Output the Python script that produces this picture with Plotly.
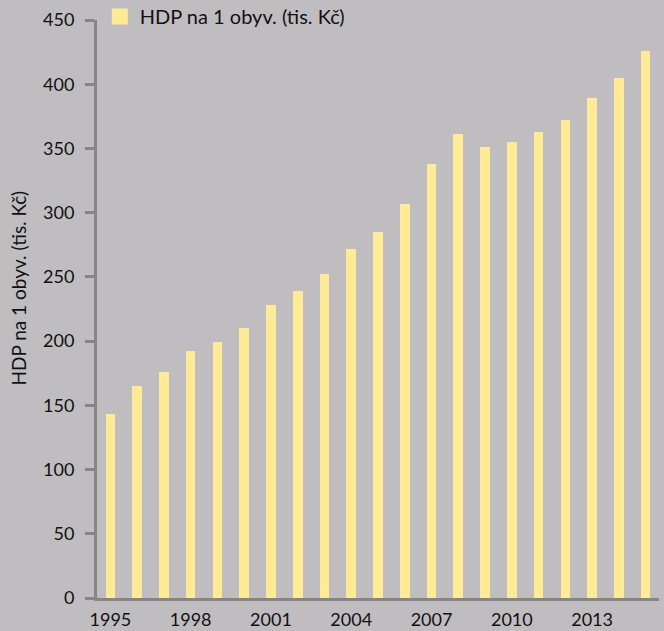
import plotly.graph_objects as go

# HDP na 1 obyvatele (tis. Kč), 1995–2015
years = list(range(1995, 2016))
hdp_per_capita = [143, 165, 176, 192, 199, 210, 228, 239, 252, 272, 285,
                  307, 338, 361, 351, 355, 363, 372, 389, 405, 426]
series_name = "HDP na 1 obyv. (tis. Kč)"
x_tick_years = [1995, 1998, 2001, 2004, 2007, 2010, 2013]
y_ticks = [0, 50, 100, 150, 200, 250, 300, 350, 400, 450]

BG = "#c0bdc0"
BAR = "#ffeb96"
AXIS = "#858585"
FONT = "Lato"

fig = go.Figure()
fig.add_trace(
    go.Bar(
        x=years,
        y=hdp_per_capita,
        name=series_name,
        legendgroup="hdp",
        marker=dict(color=BAR, line=dict(width=0)),
        width=0.36,
        showlegend=False,
    )
)
# legend entry with a larger square swatch for the bar series
fig.add_trace(
    go.Scatter(
        x=[None], y=[None],
        mode="markers",
        name=series_name,
        legendgroup="hdp",
        marker=dict(symbol="square", size=19, color=BAR),
        showlegend=True,
    )
)

fig.update_layout(
    width=664,
    height=631,
    paper_bgcolor=BG,
    plot_bgcolor=BG,
    margin=dict(l=97, r=5, t=20, b=33, autoexpand=False),
    font=dict(family=FONT, size=18, color="#111111"),
    bargap=0,
    legend=dict(
        x=0.005, y=1.04, xanchor="left", yanchor="top",
        bgcolor="rgba(0,0,0,0)", font=dict(size=20),
        itemsizing="trace", itemwidth=30,
    ),
    # y-axis title placed slightly above the plot centre
    annotations=[
        dict(
            text=series_name, textangle=-90,
            xref="paper", yref="paper", x=-0.14, y=0.536,
            xanchor="center", yanchor="middle",
            showarrow=False, font=dict(size=19),
        )
    ],
)

fig.update_xaxes(
    range=[1994.5, 2015.5],
    tickvals=x_tick_years,
    ticktext=[str(y) for y in x_tick_years],
    showgrid=False, zeroline=False,
    showline=True, linecolor=AXIS, linewidth=3,
    ticks="outside", ticklen=3, tickcolor="rgba(0,0,0,0)",
    tickfont=dict(size=18),
    automargin=False,
)

fig.update_yaxes(
    range=[0, 450],
    tickvals=y_ticks,
    showgrid=False, zeroline=False,
    showline=True, linecolor=AXIS, linewidth=3,
    ticks="outside", ticklen=9, tickwidth=3, tickcolor=AXIS,
    ticklabelstandoff=7,
    tickfont=dict(size=18),
    automargin=False,
)

fig.write_html("out.html")
